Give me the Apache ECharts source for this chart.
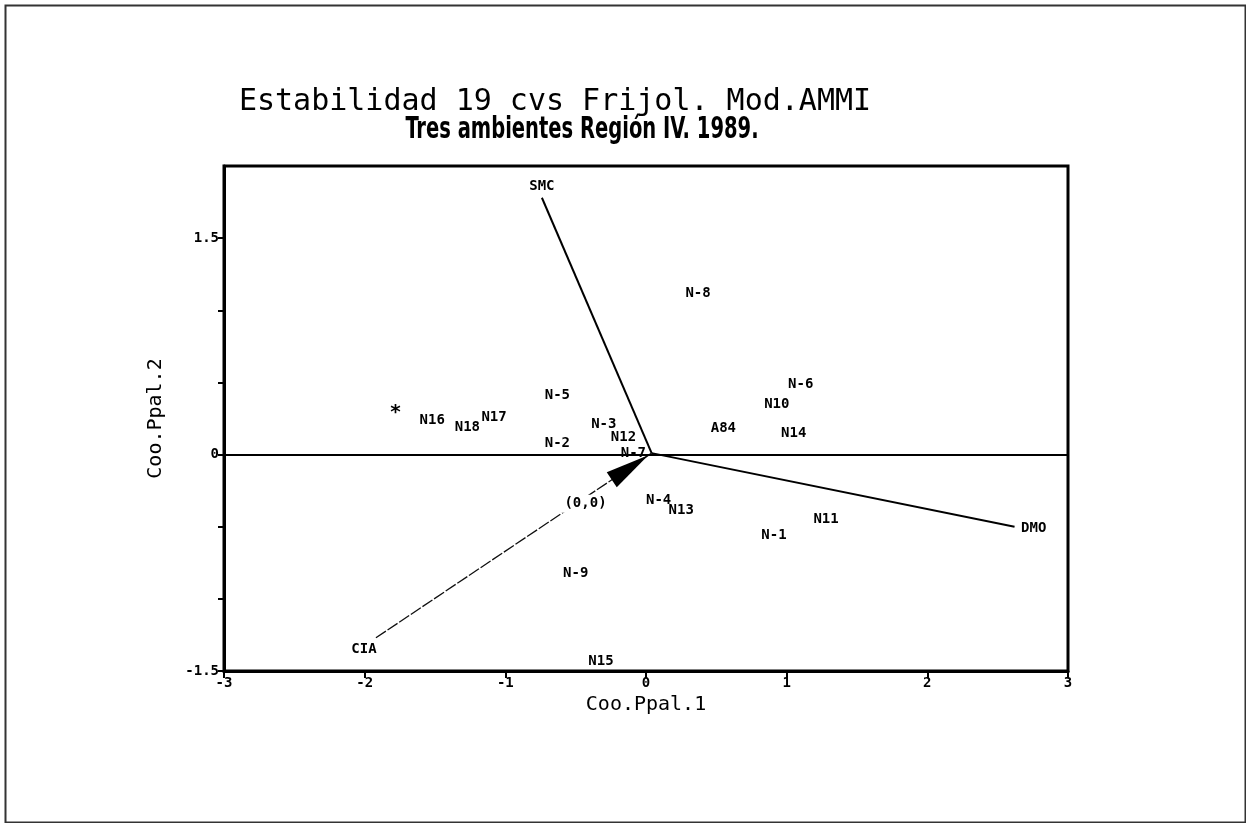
<!DOCTYPE html>
<html>
<head>
<meta charset="utf-8">
<script src="https://cdn.jsdelivr.net/npm/echarts@6/dist/echarts.min.js"></script>
<style>
html,body{margin:0;padding:0;background:#fff;}
#chart{width:1246px;height:823px;}
</style>
</head>
<body>
<div id="chart"></div>
<script>
// ---- data ----
const titleLine1 = 'Estabilidad 19 cvs Frijol. Mod.AMMI';
const titleLine2 = 'Tres ambientes Región IV. 1989.';
const xAxisName = 'Coo.Ppal.1';
const yAxisName = 'Coo.Ppal.2';

const xTicks = [-3, -2, -1, 0, 1, 2, 3];
const yTicks = [-1.5, -1, -0.5, 0, 0.5, 1, 1.5];
const yTickLabels = [-1.5, 0, 1.5];

const cultivarNames = ['N-1','N-2','N-3','N-4','N-5','N-6','N-7','N-8','N-9','N10','N11','N12','N13','N14','N15','N16','N17','N18','A84','*'];
const cultivarX = [0.91,-0.63,-0.30,0.09,-0.63,1.10,-0.09,0.37,-0.50,0.93,1.28,-0.16,0.25,1.05,-0.32,-1.52,-1.08,-1.27,0.55,-1.78];
const cultivarY = [-0.56,0.08,0.21,-0.32,0.41,0.49,0.01,1.12,-0.82,0.35,-0.45,0.12,-0.39,0.15,-1.43,0.24,0.26,0.19,0.18,0.29];

const envNames = ['SMC','DMO','CIA'];
const envX = [-0.74, 2.62, -1.92];
const envY = [1.78, -0.50, -1.27];
const origin = [0.04, 0.01];

const originLabel = '(0,0)';
const originLabelPos = [-0.43, -0.34];

// ---- chart ----
const chart = echarts.init(document.getElementById('chart'), null, {renderer:'canvas'});

const labelFont = {fontFamily:'DejaVu Sans Mono', fontWeight:'bold', fontSize:14, color:'#000'};

const envLabelPos = ['top','right','bottom'];
const envLabelOffset = [[0,0],[2,2],[-12,0]];

const series = [];

// environment vectors
envNames.forEach((n, i) => {
  const isCIA = n === 'CIA';
  series.push({
    type: 'line',
    name: n,
    silent: true,
    animation: false,
    symbol: 'none',
    lineStyle: isCIA ? {color:'#111', width:1.3, type:[12,2]} : {color:'#000', width:2},
    data: [[envX[i], envY[i]], origin],
    z: 3
  });
});

// environment labels
series.push({
  type: 'scatter',
  name: 'ambientes',
  symbolSize: 1,
  itemStyle: {color:'rgba(0,0,0,0)', opacity:1},
  animation: false,
  data: envNames.map((n,i) => ({name:n, value:[envX[i], envY[i]],
    label:{position: envLabelPos[i], offset: envLabelOffset[i], distance: 4}})),
  label: {show:true, formatter: p => p.name, ...labelFont},
  z: 5
});

// cultivar labels
series.push({
  type: 'scatter',
  name: 'cultivares',
  symbolSize: 1,
  itemStyle: {color:'rgba(0,0,0,0)', opacity:1},
  animation: false,
  data: cultivarNames.map((n,i) => ({name:n, value:[cultivarX[i], cultivarY[i]],
    label: n === '*' ? {fontSize:20} : {}})),
  label: {show:true, position:'inside', formatter: p => p.name, ...labelFont},
  markLine: {
    silent: true,
    symbol: 'none',
    label: {show:false},
    lineStyle: {color:'#000', width:2, type:'solid'},
    data: [{yAxis: 0}],
    animation: false
  },
  z: 5
});

// (0,0) label
series.push({
  type: 'scatter',
  name: 'origen',
  symbolSize: 1,
  itemStyle: {color:'rgba(0,0,0,0)', opacity:1},
  animation: false,
  data: [{name: originLabel, value: originLabelPos}],
  label: {show:true, position:'inside', formatter: p => p.name, backgroundColor:'#fff', padding:[2,3], ...labelFont},
  z: 6
});

// arrow head (placed on CIA->origin line, rotated after layout)
series.push({
  type: 'scatter',
  name: 'flecha',
  animation: false,
  silent: true,
  symbol: 'path://M10,0 L20,44 L0,44 Z',
  symbolSize: [18, 44],
  symbolKeepAspect: false,
  itemStyle: {color:'#000', opacity:1},
  data: [{value: origin}],
  z: 7
});

const option = {
  backgroundColor: '#fff',
  animation: false,
  title: [
    {text: titleLine1, left: 550, top: 82, textAlign: 'center',
      textStyle:{fontFamily:'DejaVu Sans Mono', fontWeight:'normal', fontSize:30, color:'#000'}}
  ],
  grid: {left:224, top:166, right:178, bottom:152, show:true, borderColor:'#000', borderWidth:3, backgroundColor:'#fff'},
  xAxis: {
    type:'value', min: xTicks[0], max: xTicks[xTicks.length-1], interval: 1,
    name: xAxisName, nameLocation:'middle', nameGap: 22,
    nameTextStyle:{fontFamily:'DejaVu Sans Mono', fontSize:20, color:'#000'},
    axisLine:{show:true, onZero:false, lineStyle:{color:'#000', width:3}},
    axisTick:{show:true, length:7, lineStyle:{color:'#000', width:2}},
    axisLabel:{show:true, margin:5, formatter: v => xTicks.includes(v) ? String(v) : '',
      fontFamily:'DejaVu Sans Mono', fontWeight:'bold', fontSize:14, color:'#000'},
    splitLine:{show:false}
  },
  yAxis: {
    type:'value', min:-1.5, max:2, interval:0.5,
    name: yAxisName, nameLocation:'middle', nameGap: 58,
    nameTextStyle:{fontFamily:'DejaVu Sans Mono', fontSize:20, color:'#000'},
    axisLine:{show:true, onZero:false, lineStyle:{color:'#000', width:3}},
    axisTick:{show:true, length:6, customValues: yTicks, lineStyle:{color:'#000', width:2}},
    axisLabel:{show:true, margin:5, customValues: yTickLabels,
      formatter: v => yTickLabels.some(t => Math.abs(t - v) < 1e-9) ? String(v) : '',
      fontFamily:'DejaVu Sans Mono', fontWeight:'bold', fontSize:14, color:'#000'},
    splitLine:{show:false}
  },
  graphic: [
    {type:'rect', left:3, top:3, shape:{width:1240, height:817}, style:{fill:'none', stroke:'#333', lineWidth:2}, silent:true, z:-1},
    {type:'text', x:582, y:130, scaleX:0.7, silent:true, z:10,
      style:{text: titleLine2, fill:'#000', align:'center', verticalAlign:'middle',
        font:'normal bold condensed 31px "DejaVu Sans", sans-serif'}}
  ],
  series: series
};

chart.setOption(option);

// rotate the arrowhead along the CIA -> origin direction (pixel space)
const ciaIdx = envNames.indexOf('CIA');
const p0 = chart.convertToPixel({gridIndex:0}, [envX[ciaIdx], envY[ciaIdx]]);
const p1 = chart.convertToPixel({gridIndex:0}, origin);
const dx = p1[0]-p0[0], dy = p1[1]-p0[1];
const len = Math.sqrt(dx*dx+dy*dy);
const ux = dx/len, uy = dy/len;
const rot = Math.atan2(-dy, dx)*180/Math.PI - 90;
const half = 26;
const arrowSeriesIndex = series.length - 1;
const upd = series.map(() => ({}));
upd[arrowSeriesIndex] = {data: [{value: origin, symbolRotate: rot, symbolOffset: [-ux*half, -uy*half]}]};
chart.setOption({series: upd});
</script>
</body>
</html>
